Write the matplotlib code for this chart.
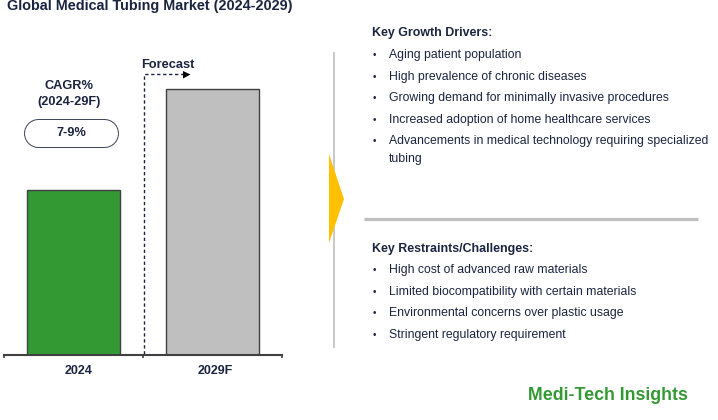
# Global medical tubing market slide
import matplotlib
matplotlib.use('Agg')
import matplotlib.pyplot as plt
from matplotlib.patches import Polygon

plt.rcParams['font.family'] = ['Liberation Sans', 'DejaVu Sans']

# Data (no value labels in the picture, heights read relative to 2024)
categories = ['2024', '2029F']
market_index = [100, 161.7]
bar_colors = ['#339933', '#BFBFBF']

title = 'Global Medical Tubing Market (2024-2029)'
cagr_label = 'CAGR%\n(2024-29F)'
cagr_value = '7-9%'
forecast_label = 'Forecast'
drivers_title = 'Key Growth Drivers:'
drivers = ['Aging patient population',
           'High prevalence of chronic diseases',
           'Growing demand for minimally invasive procedures',
           'Increased adoption of home healthcare services',
           'Advancements in medical technology requiring specialized\ntubing']
restraints_title = 'Key Restraints/Challenges:'
restraints = ['High cost of advanced raw materials',
              'Limited biocompatibility with certain materials',
              'Environmental concerns over plastic usage',
              'Stringent regulatory requirement']
brand = 'Medi-Tech Insights'

W, H = 718, 420
navy = '#1B2440'
edge = '#404040'

fig = plt.figure(figsize=(W / 100, H / 100), dpi=100)

# Overlay in pixel coordinates for the slide furniture
bg = fig.add_axes([0, 0, 1, 1])
bg.set_xlim(0, W)
bg.set_ylim(H, 0)
bg.axis('off')

# Bar chart, axis runs from x=4 to x=283 with the baseline at y=355
ax = fig.add_axes([3.8 / W, (H - 355) / H, 278.5 / W, 300 / H])
ax.patch.set_alpha(0)
ax.bar(categories, market_index, width=0.669, color=bar_colors, edgecolor=edge, linewidth=1)
ax.set_xlim(-0.5, 1.5)
ax.set_ylim(0, 100 * 300 / 164.5)
for s in ['top', 'left', 'right']:
    ax.spines[s].set_visible(False)
ax.spines['bottom'].set_color(edge)
ax.spines['bottom'].set_linewidth(1.5)
ax.set_yticks([])
ax.set_xticks([-0.5, 0.5, 1.5])
ax.set_xticklabels([])
ax.tick_params(axis='x', direction='out', length=2, width=1.2, color=edge)

label_x = [78.5, 215]
for x, c in zip(label_x, categories):
    bg.text(x, 371, c, ha='center', va='center', fontsize=9, fontweight='bold', color=navy)

bg.text(7, 6, title, ha='left', va='center', fontsize=10.4, fontweight='bold', color=navy)

# CAGR pill, thick round capped lines give a true stadium shape
bg.text(69.3, 94, cagr_label, ha='center', va='center', fontsize=9.2, fontweight='bold',
        color=navy, linespacing=1.5)
bg.plot([37.5, 104], [132.8, 132.8], color='#3A4258', lw=20.9, solid_capstyle='round')
bg.plot([37.5, 104], [132.8, 132.8], color='white', lw=19.5, solid_capstyle='round')
bg.text(71.8, 132.5, cagr_value, ha='center', va='center', fontsize=9.2, fontweight='bold', color=navy)

# Forecast arrow
bg.plot([144.3, 144.3, 183], [354, 74.4, 74.4], color=navy, lw=1, ls=(0, (2.4, 1.9)))
bg.add_patch(Polygon([[183, 71], [190.5, 74.5], [183, 78.5]], fc='black', ec='none'))
bg.text(168, 65, forecast_label, ha='center', va='center', fontsize=9.2, fontweight='bold', color=navy)

# Dividers and chevron
bg.plot([333.5, 333.5], [52, 348], color='#BFBFBF', lw=1.2, solid_capstyle='butt')
bg.add_patch(Polygon([[329, 154], [344, 199], [329, 243]], fc='#FFC000', ec='none', zorder=3))
bg.plot([364.3, 698.3], [219.3, 219.3], color='#BFBFBF', lw=2.3, solid_capstyle='butt')

# Text panels
def bullet_list(head, items, y_head, y_first):
    bg.text(372, y_head, head, ha='left', va='center', fontsize=8.9, fontweight='bold', color=navy)
    y = y_first
    for item in items:
        bg.text(374, y, '•', ha='center', va='center', fontsize=7, color=navy)
        for line in item.split('\n'):
            bg.text(389, y, line, ha='left', va='center', fontsize=8.8, color=navy)
            y += 17.5
        y += 4.1

bullet_list(drivers_title, drivers, 33, 55)
bullet_list(restraints_title, restraints, 249, 270)

bg.text(607.5, 395.5, brand, ha='center', va='center', fontsize=12.8, fontweight='bold', color='#339933')

fig.savefig('out.png', dpi=100)
